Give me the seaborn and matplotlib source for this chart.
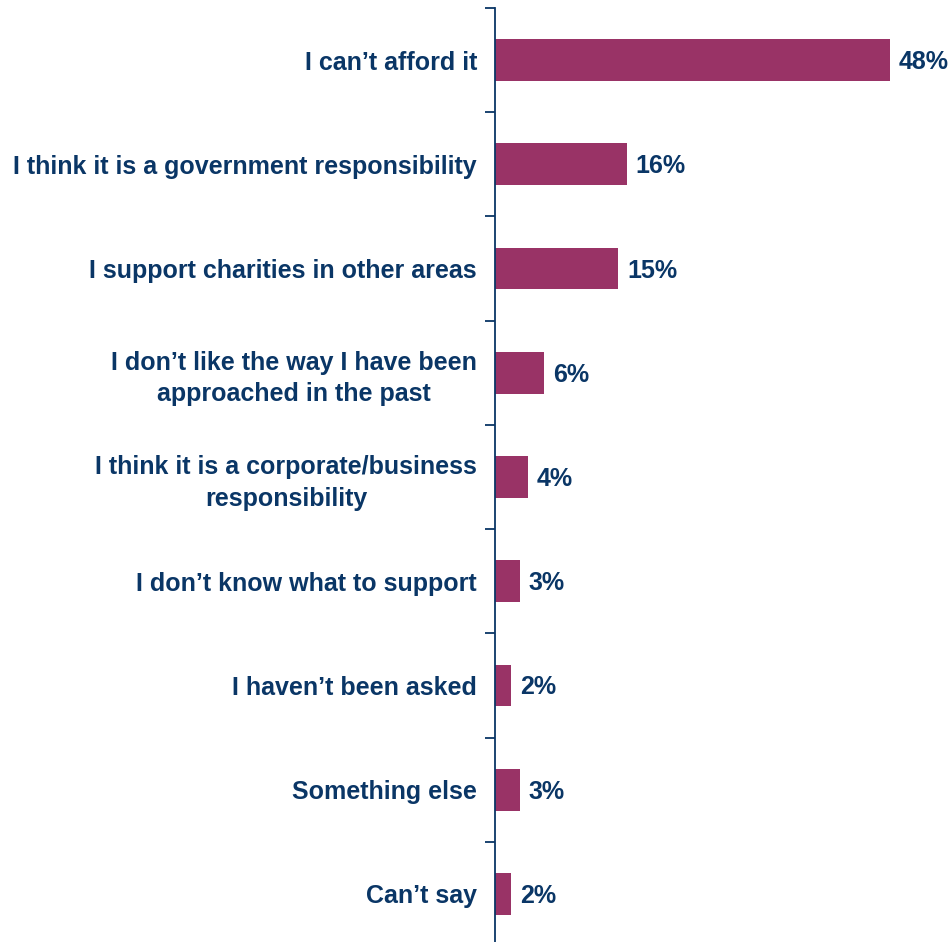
import matplotlib
matplotlib.use("Agg")
import matplotlib.pyplot as plt
import seaborn as sns
import pandas as pd

reasons = [
    "I can\u2019t afford it",
    "I think it is a government responsibility",
    "I support charities in other areas",
    "I don\u2019t like the way I have been\napproached in the past",
    "I think it is a corporate/business\nresponsibility",
    "I don\u2019t know what to support",
    "I haven\u2019t been asked",
    "Something else",
    "Can\u2019t say",
]
shares = [48, 16, 15, 6, 4, 3, 2, 3, 2]

bar_color = "#993366"
text_color = "#0A3666"

sns.set_theme(style="white")
plt.rcParams["font.family"] = ["Liberation Sans", "DejaVu Sans"]

df = pd.DataFrame({"reason": reasons, "share": shares})

W, H = 953, 942
fig = plt.figure(figsize=(W / 100, H / 100), dpi=100)
ax_left = 495 / W
ax_top = 8 / H
ax_bottom = 946 / H
xmax = 55
px_per_unit = (891 - 496) / 48
ax_width = xmax * px_per_unit / W
ax = fig.add_axes([ax_left, 1 - ax_bottom, ax_width, ax_bottom - ax_top])

sns.barplot(data=df, y="reason", x="share", orient="h", color=bar_color,
            width=0.4, saturation=1, ax=ax, linewidth=0)

ax.set_xlim(0, xmax)
ax.set_ylim(len(reasons) - 0.5, -0.5)
ax.set_xlabel("")
ax.set_ylabel("")
ax.set_xticks([])

for s in ["top", "right", "bottom"]:
    ax.spines[s].set_visible(False)
ax.spines["left"].set_color(text_color)
ax.spines["left"].set_linewidth(1.3)

ax.set_yticks(range(len(reasons)))
ax.set_yticklabels(reasons, fontsize=18, fontweight="bold", color=text_color,
                   multialignment="center", linespacing=1.38)
ax.tick_params(axis="y", which="major", length=0, pad=13)
ax.set_yticks([i - 0.5 for i in range(len(reasons) + 1)], minor=True)
ax.tick_params(axis="y", which="minor", length=7, width=1.3, color=text_color,
               direction="out", left=True)

# value labels: baseline placed so the digits sit centred on each bar
row_px = (946 - 8) / len(reasons)
half_cap = 9 / row_px
for i, v in enumerate(shares):
    ax.text(v + 9 / px_per_unit, i + half_cap, f"{v}%", va="baseline", ha="left",
            fontsize=18, fontweight="bold", color=text_color)

fig.savefig("out.png", dpi=100, facecolor="white")
